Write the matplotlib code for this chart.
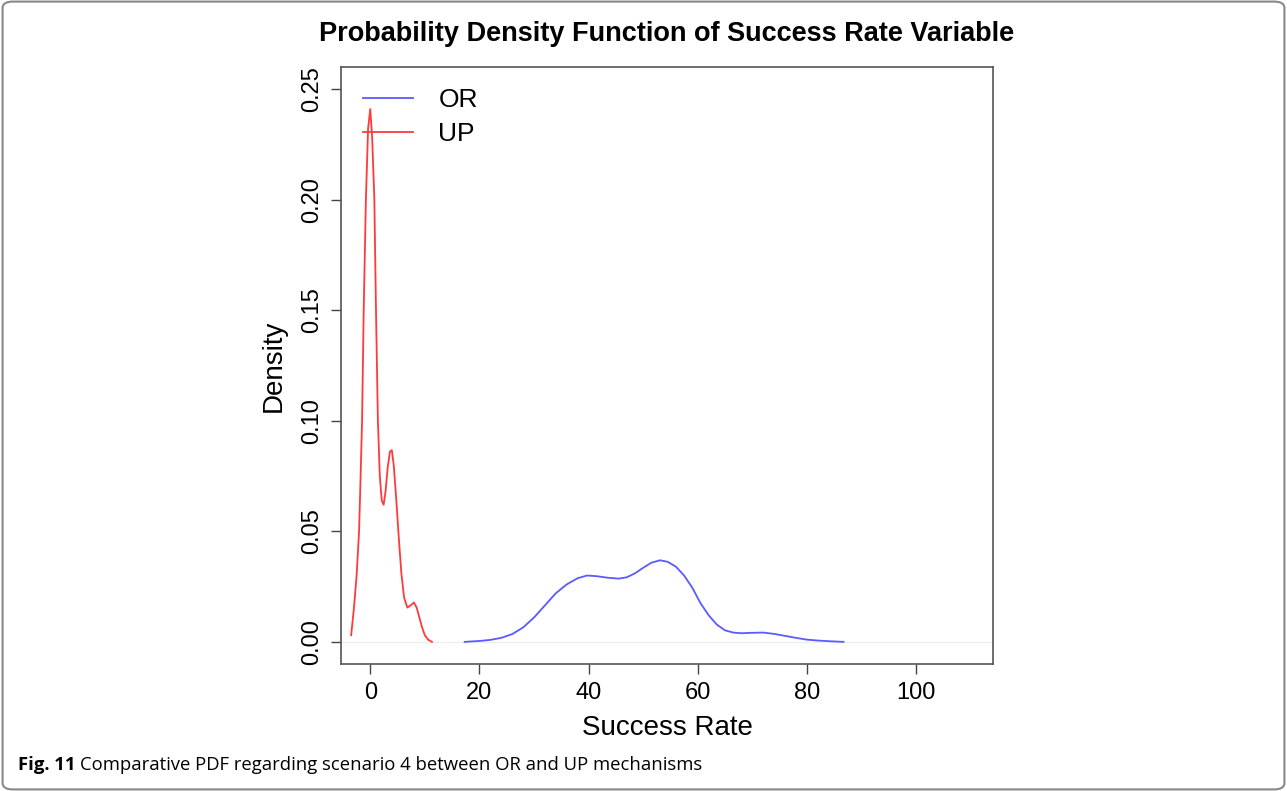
import matplotlib
matplotlib.use("Agg")
import matplotlib.pyplot as plt
from matplotlib.patches import FancyBboxPatch

# density curves
up_x = [-3.5, -3.0, -2.5, -2.05, -1.8, -1.5, -1.2, -0.8, -0.4, 0.0, 0.35, 0.75,
        1.05, 1.4, 1.75, 2.1, 2.45, 2.8, 3.2, 3.6, 3.95, 4.3, 4.75, 5.2, 5.7,
        6.2, 6.8, 7.4, 8.0, 8.5, 9.0, 9.5, 10.0, 10.6, 11.3]
up_y = [0.003, 0.015, 0.030, 0.050, 0.072, 0.100, 0.150, 0.200, 0.232, 0.241, 0.228, 0.200,
        0.150, 0.100, 0.075, 0.064, 0.062, 0.068, 0.079, 0.086, 0.0867, 0.080, 0.065, 0.048, 0.031,
        0.020, 0.0155, 0.0165, 0.0178, 0.0155, 0.011, 0.0065, 0.003, 0.001, 0.0]

or_x = [17.3, 20.0, 22.0, 24.0, 26.0, 28.0, 30.0, 32.0, 34.0, 36.0, 38.0, 39.7,
        41.5, 43.5, 45.5, 47.0, 48.5, 50.0, 51.5, 53.1, 54.5, 56.0, 57.5, 59.0,
        60.5, 62.0, 63.5, 65.0, 66.5, 68.0, 70.0, 72.0, 74.0, 76.0, 78.0, 80.0,
        82.0, 84.0, 86.7]
or_y = [0.0, 0.0004, 0.0009, 0.0018, 0.0035, 0.0065, 0.0110, 0.0165, 0.0220, 0.0260, 0.0288, 0.0300,
        0.0297, 0.0290, 0.0286, 0.0292, 0.0310, 0.0335, 0.0358, 0.0369, 0.0362, 0.0340, 0.0300, 0.0245,
        0.0175, 0.0120, 0.0078, 0.0052, 0.0042, 0.0039, 0.0041, 0.0042, 0.0036, 0.0027, 0.0018, 0.0010,
        0.0006, 0.0003, 0.0]

x_ticks = [0, 20, 40, 60, 80, 100]
y_ticks = [0.00, 0.05, 0.10, 0.15, 0.20, 0.25]

plt.rcParams['font.family'] = ['Liberation Sans', 'DejaVu Sans']

fig = plt.figure(figsize=(12.87, 7.91), dpi=100)
# left, bottom, width, height
ax = fig.add_axes([0.265, 0.1606, 0.5066, 0.7547])

ax.axhline(0, color='#eeeeee', lw=1, zorder=0)
ax.plot(or_x, or_y, color='#5a5aff', lw=1.3, label='OR')
ax.plot(up_x, up_y, color='#ff3a3a', lw=1.3, label='UP')

ax.set_xlim(-5.35, 114.1)
ax.set_ylim(-0.01, 0.26)
ax.set_xticks(x_ticks)
ax.set_xticklabels([str(v) for v in x_ticks])
ax.set_yticks(y_ticks)
ax.set_yticklabels(['%.2f' % v for v in y_ticks], rotation=90, va='center')
ax.tick_params(direction='out', length=7, width=1, colors='#444444',
               labelcolor='black', labelsize=17, pad=6)
for s in ax.spines.values():
    s.set_color('#555555')
    s.set_linewidth(1.2)

ax.set_xlabel('Success Rate', fontsize=20, labelpad=8)
ax.set_ylabel('Density', fontsize=20, labelpad=10)
ax.set_title('Probability Density Function of Success Rate Variable',
             fontsize=19.5, fontweight='bold', pad=19)

ax.legend(loc='upper left', frameon=False, fontsize=19, handlelength=1.9,
          handletextpad=0.95, labelspacing=0.36, borderaxespad=0,
          bbox_to_anchor=(0.0176, 0.982))

# caption box round the whole figure
box = FancyBboxPatch((0.002, 0.002), 0.996, 0.996, transform=fig.transFigure,
                     boxstyle='round,pad=0,rounding_size=0.008',
                     fc='none', ec='#888888', lw=1.5)
fig.patches.append(box)

t1 = fig.text(18 / 1287, 1 - 770 / 791, 'Fig. 11', fontsize=13.3, fontweight='bold',
              family=['Open Sans', 'DejaVu Sans'])
fig.canvas.draw()
bb = t1.get_window_extent()
fig.text((bb.x1 + 5) / 1287, 1 - 770 / 791,
         'Comparative PDF regarding scenario 4 between OR and UP mechanisms',
         fontsize=13.3, family=['Open Sans', 'DejaVu Sans'])

fig.savefig('out.png', dpi=100)
